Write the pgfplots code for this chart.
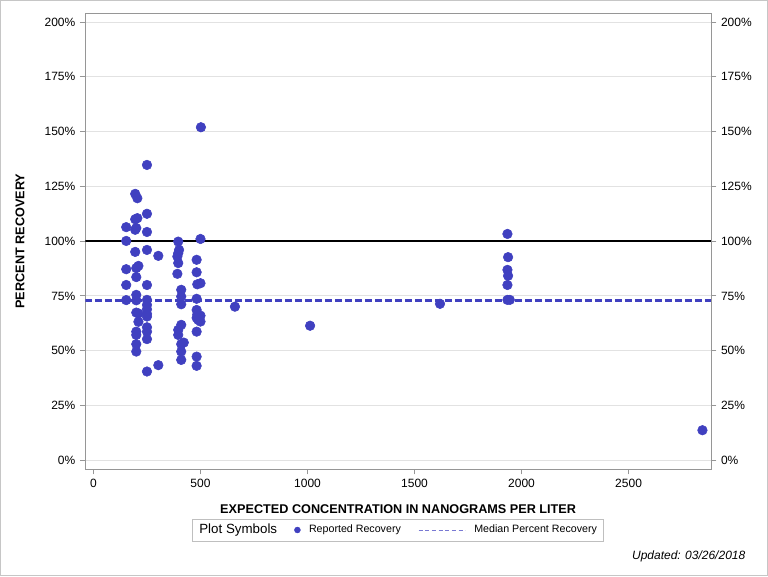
\documentclass[border=0pt]{standalone}
\usepackage{fontspec}
\setmainfont{Liberation Sans}
\usepackage{pgfplots}
\usepackage{pgfplotstable}
\pgfplotsset{compat=1.18}
\definecolor{dotblue}{RGB}{64,64,192}
\definecolor{axisgray}{RGB}{150,150,150}
\definecolor{gridgray}{RGB}{226,226,226}

\pgfplotstableread{
x y
153 106.4
153 100.1
153 87.2
153 80.0
153 73.1
195 121.6
205 119.6
195 110.0
205 110.5
195 105.2
200 106.0
195 95.1
200 87.7
210 88.7
200 83.6
200 75.5
200 73.0
200 67.4
210 67.0
210 63.2
200 58.7
200 57.2
200 53.0
200 49.6
250 134.8
250 112.5
250 104.2
250 96.0
250 80.0
250 73.2
250 70.9
250 68.9
250 66.8
250 65.6
250 60.7
250 58.7
250 55.3
250 40.5
303 93.3
303 43.4
396 99.8
400 96.0
396 94.5
392 93.0
396 90.0
392 85.1
396 59.5
396 57.2
410 61.8
410 77.8
410 74.7
410 71.2
410 53.0
410 49.6
410 45.8
422 53.7
482 91.5
482 85.8
485 80.3
482 73.7
482 68.6
485 66.5
482 65.0
490 64.0
482 58.7
482 47.3
482 43.1
502 152.0
500 101.0
500 80.8
500 66.0
500 63.3
661 70.1
1012 61.4
1619 71.4
1934 103.3
1937 92.7
1934 86.9
1937 84.2
1934 80.0
1934 73.2
1945 73.2
2845 13.7
}\recovery

\begin{document}
\begin{tikzpicture}[x=1pt,y=1pt]
\draw[gray!45, line width=0.75pt] (0.375,0.375) rectangle (575.625,431.625);
\useasboundingbox (0,0) rectangle (576,432);
\begin{axis}[
  at={(64pt,80.25pt)}, anchor=south west,
  scale only axis, width=469.25pt, height=341.75pt,
  xmin=-38, xmax=2885, ymin=-4, ymax=204,
  xtick={0,500,1000,1500,2000,2500},
  ytick={0,25,50,75,100,125,150,175,200},
  yticklabel={\pgfmathprintnumber{\tick}\%},
  /pgf/number format/assume math mode=true,
  /pgf/number format/1000 sep={},
  tick label style={font=\fontsize{9}{11}\selectfont},
  xtick pos=bottom, ytick pos=left,
  tick align=outside, major tick length=4pt,
  tick style={axisgray, line width=0.75pt},
  axis line style={axisgray, line width=0.75pt},
  ymajorgrids, grid style={gridgray, line width=0.75pt},
  xlabel={EXPECTED CONCENTRATION IN NANOGRAMS PER LITER},
  ylabel={PERCENT RECOVERY},
  label style={font=\bfseries\fontsize{9.5}{11}\selectfont},
  xlabel style={at={(axis description cs:0.5,-0.0878)}, anchor=center},
  ylabel style={at={(axis description cs:-0.1044,0.5)}, anchor=center},
  legend columns=3,
  legend style={at={(axis description cs:0.5,-0.1339)}, anchor=center,
    draw=gray!50, fill=white, font=\fontsize{8}{10}\selectfont,
    /tikz/every even column/.append style={column sep=11pt},
    /tikz/every odd column/.append style={column sep=4.5pt},
    inner ysep=2pt},
  legend cell align=left,
]
\addlegendimage{empty legend}
\addlegendentry{\hspace{-4.5pt}\fontsize{10}{12}\selectfont Plot Symbols\hspace{8.5pt}}
\addlegendimage{only marks, mark=*, mark size=2.2pt, dotblue, mark options={draw=none, fill=dotblue}}
\addlegendentry{Reported Recovery}
\addlegendimage{legend image code/.code={\draw[dotblue!70, line width=0.5pt, dash pattern=on 3pt off 2pt] (0pt,0pt) -- (35pt,0pt);}}
\addlegendentry{Median Percent Recovery}

\addplot[black, line width=1.5pt, forget plot] coordinates {(-38,100) (2885,100)};
\addplot[dotblue, line width=2pt, dash pattern=on 5pt off 2.5pt, forget plot] coordinates {(-38,73) (2885,73)};
\addplot[dotblue, only marks, mark=*, mark size=3.6pt, forget plot,
  mark options={draw=none, fill=dotblue}] table[x=x, y=y] {\recovery};
\end{axis}
\begin{axis}[
  at={(64pt,80.25pt)}, anchor=south west,
  scale only axis, width=469.25pt, height=341.75pt,
  xmin=-38, xmax=2885, ymin=-4, ymax=204,
  axis x line=none, axis y line*=right,
  ytick={0,25,50,75,100,125,150,175,200},
  yticklabel={\pgfmathprintnumber{\tick}\%},
  /pgf/number format/assume math mode=true,
  tick label style={font=\fontsize{9}{11}\selectfont},
  tick align=outside, major tick length=4pt,
  tick style={axisgray, line width=0.75pt},
  axis line style={axisgray, line width=0.75pt},
]
\addplot[draw=none, forget plot] coordinates {(0,0)};
\end{axis}
\node[anchor=base east, font=\itshape\fontsize{9}{11}\selectfont] at (562.5pt,12.25pt) {Updated: 03/26/2018};
\end{tikzpicture}
\end{document}
